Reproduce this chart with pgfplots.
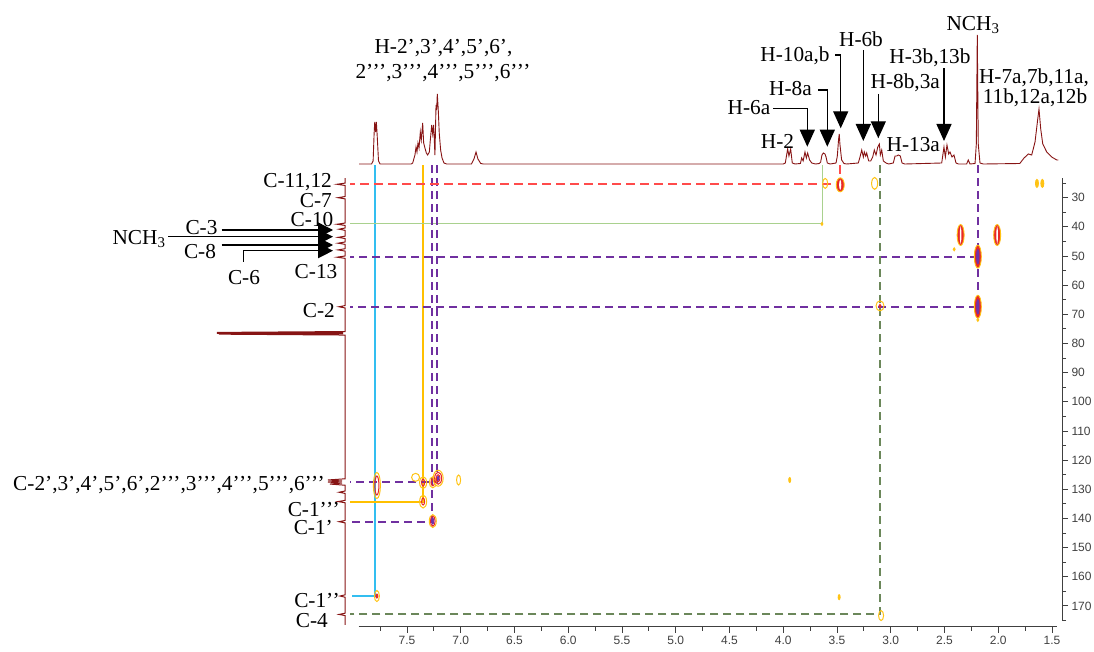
\documentclass[border=0pt]{standalone}
\usepackage{pgfplots}
\pgfplotsset{compat=1.18}
\usepackage{fontspec}
\setmainfont{Liberation Serif}
\newfontfamily\ticksf{Liberation Sans}
\usetikzlibrary{arrows.meta}
\definecolor{spec}{RGB}{135,20,20}
\definecolor{pkO}{RGB}{255,195,20}
\definecolor{pkR}{RGB}{232,40,40}
\definecolor{pkP}{RGB}{110,50,170}
\definecolor{lred}{RGB}{255,75,75}
\definecolor{purp}{RGB}{112,48,160}
\definecolor{blu}{RGB}{51,190,240}
\definecolor{orl}{RGB}{255,192,0}
\definecolor{lgreen}{RGB}{169,209,142}
\definecolor{dgreen}{RGB}{107,135,90}
\definecolor{tickgray}{RGB}{64,64,64}
\pgfkeys{/pk/w/.initial=2pt}
\pgfdeclareplotmark{ell}{\pgfpathellipse{\pgfpointorigin}{\pgfqpoint{\pgfkeysvalueof{/pk/w}}{0pt}}{\pgfqpoint{0pt}{\pgfplotmarksize}}\pgfusepathqstroke}
\pgfdeclareplotmark{ellf}{\pgfpathellipse{\pgfpointorigin}{\pgfqpoint{\pgfkeysvalueof{/pk/w}}{0pt}}{\pgfqpoint{0pt}{\pgfplotmarksize}}\pgfusepathqfillstroke}
\newcommand{\pkr}[4]{\addplot[only marks, mark=ell, mark size=#2pt, mark options={/pk/w=#1pt, draw=#3, line width=1pt, solid}] coordinates {#4};}
\newcommand{\pkf}[5]{\addplot[only marks, mark=ellf, mark size=#2pt, mark options={/pk/w=#1pt, draw=#3, fill=#4, line width=0.9pt, solid}] coordinates {#5};}
\newcommand{\lab}{\fontsize{21.3}{24}\selectfont}
\newcommand{\pp}{’\kern-0.6pt’}
\newcommand{\ppp}{’\kern-0.6pt’\kern-0.6pt’}
\begin{document}
\begin{tikzpicture}
\path[use as bounding box] (0,0) rectangle (1094pt,-652pt);
% ---------- 1H projection ----------
\begin{axis}[at={(346pt,-165pt)}, anchor=south west, scale only axis,
  width=716pt, height=151pt, xmin=1.407, xmax=8.0674, x dir=reverse,
  ymin=-1, ymax=150, hide axis, clip=false]
\addplot[spec, line width=0.9pt] coordinates {
(7.946,0) (7.83,0) (7.815,3) (7.806,30) (7.80,42) (7.792,32) (7.785,42) (7.778,30) (7.765,3) (7.75,0)
(7.46,0) (7.447,1) (7.426,9) (7.416,17) (7.407,12) (7.398,21) (7.388,16) (7.376,32) (7.367,24) (7.354,41)
(7.345,21) (7.333,16) (7.320,11) (7.308,9) (7.292,12) (7.283,24) (7.270,39) (7.261,30) (7.252,39) (7.240,9)
(7.230,59) (7.224,54) (7.218,70) (7.209,54) (7.200,31) (7.187,14) (7.174,6) (7.156,1) (7.131,0)
(6.90,0) (6.877,5) (6.858,12) (6.840,5) (6.814,0.5) (6.79,0)
(4.00,0) (3.981,1) (3.959,15) (3.947,8) (3.931,15) (3.916,1) (3.891,0)
(3.84,0.5) (3.829,6) (3.815,3) (3.798,12) (3.785,6) (3.773,11) (3.755,4) (3.735,1) (3.70,0)
(3.665,0.5) (3.652,2) (3.640,9) (3.627,11) (3.612,10) (3.602,7) (3.590,1) (3.565,0)
(3.509,1) (3.497,8) (3.485,25) (3.479,30) (3.473,20) (3.457,4) (3.435,0.5) (3.41,0)
(3.302,1) (3.286,7) (3.270,14) (3.255,7) (3.246,12) (3.233,8) (3.224,11) (3.205,3) (3.187,3)
(3.168,7) (3.153,14) (3.137,9) (3.121,17) (3.106,20) (3.097,9) (3.084,14) (3.069,3) (3.044,1) (3.02,0)
(2.976,1) (2.960,8) (2.945,8) (2.929,9) (2.911,8) (2.895,1) (2.87,0)
(2.526,1) (2.505,17) (2.492,7) (2.477,19) (2.461,10) (2.449,12) (2.430,7) (2.412,9) (2.393,1) (2.37,0)
(2.294,0) (2.279,4) (2.263,0)
(2.216,0.5) (2.204,20) (2.195,129) (2.186,20) (2.170,1) (2.14,0)
(1.80,0.5) (1.760,6) (1.720,10) (1.689,9) (1.658,22) (1.636,42) (1.621,55) (1.605,35) (1.586,20)
(1.549,12) (1.503,7) (1.456,4) (1.441,4)};
\end{axis}
% ---------- 13C projection ----------
\begin{axis}[at={(206pt,-626.7pt)}, anchor=south west, scale only axis,
  width=140pt, height=461.7pt, xmin=-1, xmax=139, x dir=reverse,
  ymin=18.79, ymax=177.12, y dir=reverse, hide axis, clip=false]
\addplot[spec, line width=1pt] coordinates {
(0,23.3) (0,25.0) (8,25.4) (0,25.8) (0,29.6) (7,30.0) (0,30.4) (0,38.7) (8,39.1) (0,39.5)
(0,40.4) (6,40.8) (0,41.2) (0,43.2) (7,43.6) (0,44.0) (0,45.2) (7,45.6) (0,46.0) (0,47.5) (7,47.9) (0,48.3)
(0,50.0) (8,50.4) (0,50.8) (0,67.0) (6,67.4) (0,67.8) (0,75.9) (128,76.2) (2,76.35) (128,76.5) (2,76.65)
(126,76.8) (0,77.1) (0,126.4) (17,126.8) (3,127.15) (17,127.5) (3,127.85) (15,128.2) (0,128.6)
(0,130.6) (6,131.0) (0,131.4) (0,133.8) (7,134.2) (0,134.6) (0,140.7) (6,141.1) (0,141.5)
(0,166.2) (5,166.6) (0,167.0) (0,172.5) (6,172.9) (0,173.3) (0,176.5)};
\end{axis}
% ---------- 2D map ----------
\begin{axis}[at={(346pt,-626.7pt)}, anchor=south west, scale only axis,
  width=716pt, height=461.7pt, xmin=1.407, xmax=8.0674, x dir=reverse,
  ymin=18.79, ymax=177.12, y dir=reverse, clip=false,
  axis x line*=bottom, axis y line*=right, axis line style={draw=none},
  xtick={1.5,2.0,2.5,3.0,3.5,4.0,4.5,5.0,5.5,6.0,6.5,7.0,7.5},
  minor xtick={1.75,2.25,2.75,3.25,3.75,4.25,4.75,5.25,5.75,6.25,6.75,7.25,7.75},
  ytick={30,40,50,60,70,80,90,100,110,120,130,140,150,160,170},
  minor ytick={25,35,45,55,65,75,85,95,105,115,125,135,145,155,165,175},
  tick align=outside, major tick length=6pt, minor tick length=4pt,
  tick style={tickgray, line width=0.9pt},
  /pgf/number format/assume math mode=true,
  ticklabel style={font=\ticksf\fontsize{12}{13}\selectfont, text=tickgray},
  xticklabel style={/pgf/number format/.cd, fixed, fixed zerofill, precision=1},
  yticklabel style={xshift=0pt}]
% cross peaks
\pkr{3.5}{13}{pkO}{(7.78,128.7)}
\pkr{2}{9.5}{pkR}{(7.78,128.7)}
\pkr{2.5}{5.5}{pkO}{(7.78,166.6)}
\pkf{1}{2}{pkR}{pkR}{(7.78,166.6)}
\pkr{4}{4}{pkO}{(7.42,125.9)}
\pkr{3.5}{6}{pkO}{(7.35,127.7)}
\pkr{1.5}{3.5}{pkR}{(7.35,127.7)}
\pkr{3.5}{6.5}{pkO}{(7.35,134.2)}
\pkr{1.5}{3.5}{pkR}{(7.35,134.2)}
\pkr{3.5}{5.5}{pkO}{(7.26,127.6)}
\pkr{1.8}{3.5}{pkR}{(7.26,127.6)}
\pkr{5}{8}{pkO}{(7.21,126.2)}
\pkr{3.5}{6}{pkR}{(7.21,126.2)}
\pkr{1.8}{3.5}{pkR}{(7.21,126.2)}
\pkf{0.8}{2}{pkP}{pkP}{(7.21,126.2)}
\pkr{3.5}{6.5}{pkO}{(7.26,140.9)}
\pkr{2.3}{5}{pkR}{(7.26,140.9)}
\pkf{1}{3}{pkP}{pkP}{(7.26,140.9)}
\pkr{2}{5}{pkO}{(7.02,126.8)}
\pkf{1}{2.5}{pkO}{pkO}{(3.94,126.8) (3.48,167.0)}
\pkr{2.5}{5}{pkO}{(3.09,173.3)}
\pkr{2.5}{5}{pkO}{(3.61,25.1)}
\pkf{4}{7}{pkO}{pkR}{(3.47,25.6)}
\pkf{0.6}{4}{white}{white}{(3.47,25.6)}
\pkr{3}{6}{pkO}{(3.15,25.1)}
\pkf{1}{1.5}{pkO}{pkO}{(3.64,39.0) (2.41,47.7) (2.19,71.9)}
\pkf{3.5}{10.5}{pkO}{pkR}{(2.35,42.8) (2.01,42.8)}
\pkf{0.35}{6}{white}{white}{(2.35,42.8) (2.01,42.8)}
\pkf{3.5}{11.5}{pkO}{pkR}{(2.19,50.2) (2.19,67.4)}
\pkf{1.2}{7}{pkP}{pkP}{(2.19,50.2) (2.19,67.4)}
\pkr{4}{5}{pkO}{(3.10,67.1)}
\pkf{1}{1.5}{pkR}{pkR}{(3.10,67.1)}
\pkf{1.5}{4}{pkO}{pkO}{(1.64,25.1) (1.59,25.1)}
% correlation guide lines
\addplot[blu, line width=2pt] coordinates {(7.798,18.79) (7.798,166.59) (8.012,166.59)};
\addplot[orl, line width=1.9pt] coordinates {(7.354,18.79) (7.354,134.25) (8.03,134.25)};
\addplot[lgreen, line width=1.5pt] coordinates {(3.637,18.79) (3.637,38.78) (8.03,38.78)};
\addplot[purp, line width=1.8pt, dash pattern=on 8pt off 5pt] coordinates {(7.267,18.79) (7.267,141.11) (8.03,141.11)};
\addplot[purp, line width=1.8pt, dash pattern=on 8pt off 5pt] coordinates {(7.218,18.79) (7.218,127.39) (8.03,127.39)};
\addplot[purp, line width=1.8pt, dash pattern=on 8pt off 5pt] coordinates {(2.188,18.79) (2.188,67.38) (8.03,67.38)};
\addplot[purp, line width=1.8pt, dash pattern=on 8pt off 5pt] coordinates {(2.188,50.23) (8.03,50.23)};
\addplot[lred, line width=2.2pt, dash pattern=on 9pt off 5pt] coordinates {(3.472,18.79) (3.472,25.30) (8.03,25.30)};
\addplot[dgreen, line width=2.3pt, dash pattern=on 8pt off 5pt] coordinates {(3.100,18.79) (3.100,172.87) (8.03,172.87)};
% axis lines
\draw[tickgray, line width=0.9pt] (axis cs:7.95,177.12) -- (axis cs:1.45,177.12);
\draw[tickgray, line width=0.9pt] (axis cs:1.407,23.3) -- (axis cs:1.407,175.2);
\end{axis}
% ---------- annotations ----------
\begin{scope}[x=1pt, y=-1pt, every node/.style={font=\lab, inner sep=0pt}]
\node[anchor=base] at (443.5,53.7) {H-2’,3’,4’,5’,6’,};
\node[anchor=base] at (443,78.7) {2\ppp,3\ppp,4\ppp,5\ppp,6\ppp};
\node[anchor=base] at (973,30.3) {NCH\textsubscript{3}};
\node[anchor=base] at (861,47) {H-6b};
\node[anchor=base] at (795,62) {H-10a,b};
\node[anchor=base] at (790.5,96) {H-8a};
\node[anchor=base] at (749,115) {H-6a};
\node[anchor=base] at (777.5,148.7) {H-2};
\node[anchor=base] at (930,63.7) {H-3b,13b};
\node[anchor=base] at (905.3,88.7) {H-8b,3a};
\node[anchor=base] at (913.3,152) {H-13a};
\node[anchor=base] at (1034,83.7) {H-7a,7b,11a,};
\node[anchor=base] at (1035,103.7) {11b,12a,12b};
\begin{scope}[line width=1.3pt, -{Triangle[length=17pt,width=15pt]}]
\draw (773.3,108.3) -- (807.3,108.3) -- (807.3,146.7);
\draw (818.3,90) -- (827.3,90) -- (827.3,146.7);
\draw (835,55) -- (840.7,55) -- (840.7,128.3);
\draw (863.3,50) -- (863.3,141);
\draw (878.3,94) -- (878.3,138.3);
\draw (944,68.3) -- (944,141);
\end{scope}
\begin{scope}[line width=1.3pt, -{Triangle[length=15pt,width=15pt]}]
\draw (168.3,236.7) -- (333,236.7);
\draw (221.7,230) -- (333,230);
\draw (221.7,245) -- (333,245);
\draw (243.3,261.7) -- (243.3,250.7) -- (333,250.7);
\end{scope}
\node[anchor=base] at (139,244) {NCH\textsubscript{3}};
\node[anchor=base] at (201.5,234.7) {C-3};
\node[anchor=base] at (200,258.7) {C-8};
\node[anchor=base] at (244,284) {C-6};
\node[anchor=base] at (312,227) {C-10};
\node[anchor=base] at (316,278) {C-13};
\node[anchor=base east] at (332,188) {C-11,12};
\node[anchor=base east] at (332,207.7) {C-7};
\node[anchor=base east] at (335,317) {C-2};
\node[anchor=base east] at (325,490) {C-2’,3’,4’,5’,6’,2\ppp,3\ppp,4\ppp,5\ppp,6\ppp};
\node[anchor=base east] at (340,516) {C-1\ppp};
\node[anchor=base east] at (333,534) {C-1’};
\node[anchor=base east] at (340,607) {C-1\pp};
\node[anchor=base east] at (328,627) {C-4};
\end{scope}
\end{tikzpicture}
\end{document}
